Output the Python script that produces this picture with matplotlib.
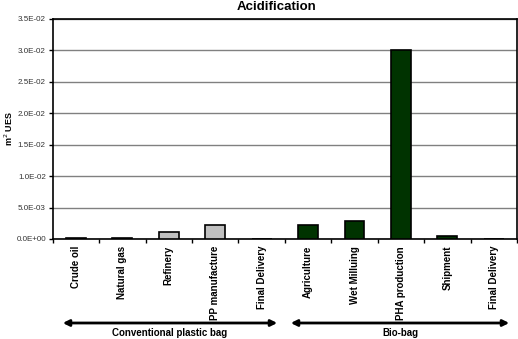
import matplotlib.pyplot as plt
import numpy as np

plt.rcParams['font.family'] = ['Liberation Sans', 'DejaVu Sans']

stages = ['Crude oil', 'Natural gas', 'Refinery', 'PP manufacture', 'Final Delivery',
          'Agriculture', 'Wet Milluing', 'PHA production', 'Shipment', 'Final Delivery']
conventional = [1.5e-4, 1.5e-4, 1.05e-3, 2.2e-3, 0.0]
biobag = [2.2e-3, 2.9e-3, 3.0e-2, 4e-4, 0.0]
yticks = [0, 5e-3, 1e-2, 1.5e-2, 2e-2, 2.5e-2, 3e-2, 3.5e-2]
ytick_labels = ['0.0E+00', '5.0E-03', '1.0E-02', '1.5E-02', '2.0E-02', '2.5E-02', '3.0E-02', '3.5E-02']
groups = ['Conventional plastic bag', 'Bio-bag']

fig = plt.figure(figsize=(5.18, 3.39), dpi=100)
ax = fig.add_axes([0.102, 0.295, 0.896, 0.649])

x = np.arange(len(stages))
n1 = len(conventional)
ax.bar(x[:n1], conventional, width=0.43, color='#c0c0c0', edgecolor='black', linewidth=1.2, zorder=3)
ax.bar(x[n1:], biobag, width=0.43, color='#003300', edgecolor='black', linewidth=1.2, zorder=3)

ax.set_xlim(-0.5, len(stages) - 0.5)
ax.set_ylim(0, 0.035)
ax.set_yticks(yticks)
ax.set_yticklabels(ytick_labels, fontsize=5.8, color='#333333')
ax.yaxis.grid(True, color='#808080', linewidth=1.0, zorder=0)
ax.set_axisbelow(True)

# ticks between categories, labels centred on categories
ax.set_xticks(np.arange(len(stages) + 1) - 0.5)
ax.set_xticklabels([])
ax.set_xticks(x, minor=True)
ax.set_xticklabels(stages, minor=True, rotation=90, fontsize=7, fontweight='bold', va='top')
ax.tick_params(axis='x', which='minor', length=0, pad=5)
ax.tick_params(axis='x', which='major', length=3, width=1, direction='out')
ax.tick_params(axis='y', length=3, width=1, pad=2)
for s in ax.spines.values():
    s.set_linewidth(1.2)

ax.set_ylabel('m$^2$ UES', fontsize=6.5, fontweight='bold')
ax.yaxis.set_label_coords(-0.082, 0.5)
fig.text(277 / 518, 1 - 7 / 339, 'Acidification', ha='center', va='center', fontsize=9.5, fontweight='bold')

# group arrows below the labels
arrow_y = 1 - 323 / 339
text_y = 1 - 333 / 339
spans = [(60 / 518, 280 / 518), (288 / 518, 512 / 518)]
for (x0, x1), g in zip(spans, groups):
    fig.add_artist(plt.matplotlib.patches.FancyArrowPatch(
        (x0, arrow_y), (x1, arrow_y), transform=fig.transFigure,
        arrowstyle='<|-|>', mutation_scale=9, linewidth=2, color='black'))
    fig.text((x0 + x1) / 2, text_y, g, ha='center', va='center', fontsize=7, fontweight='bold')

fig.savefig('out.png', dpi=100)
